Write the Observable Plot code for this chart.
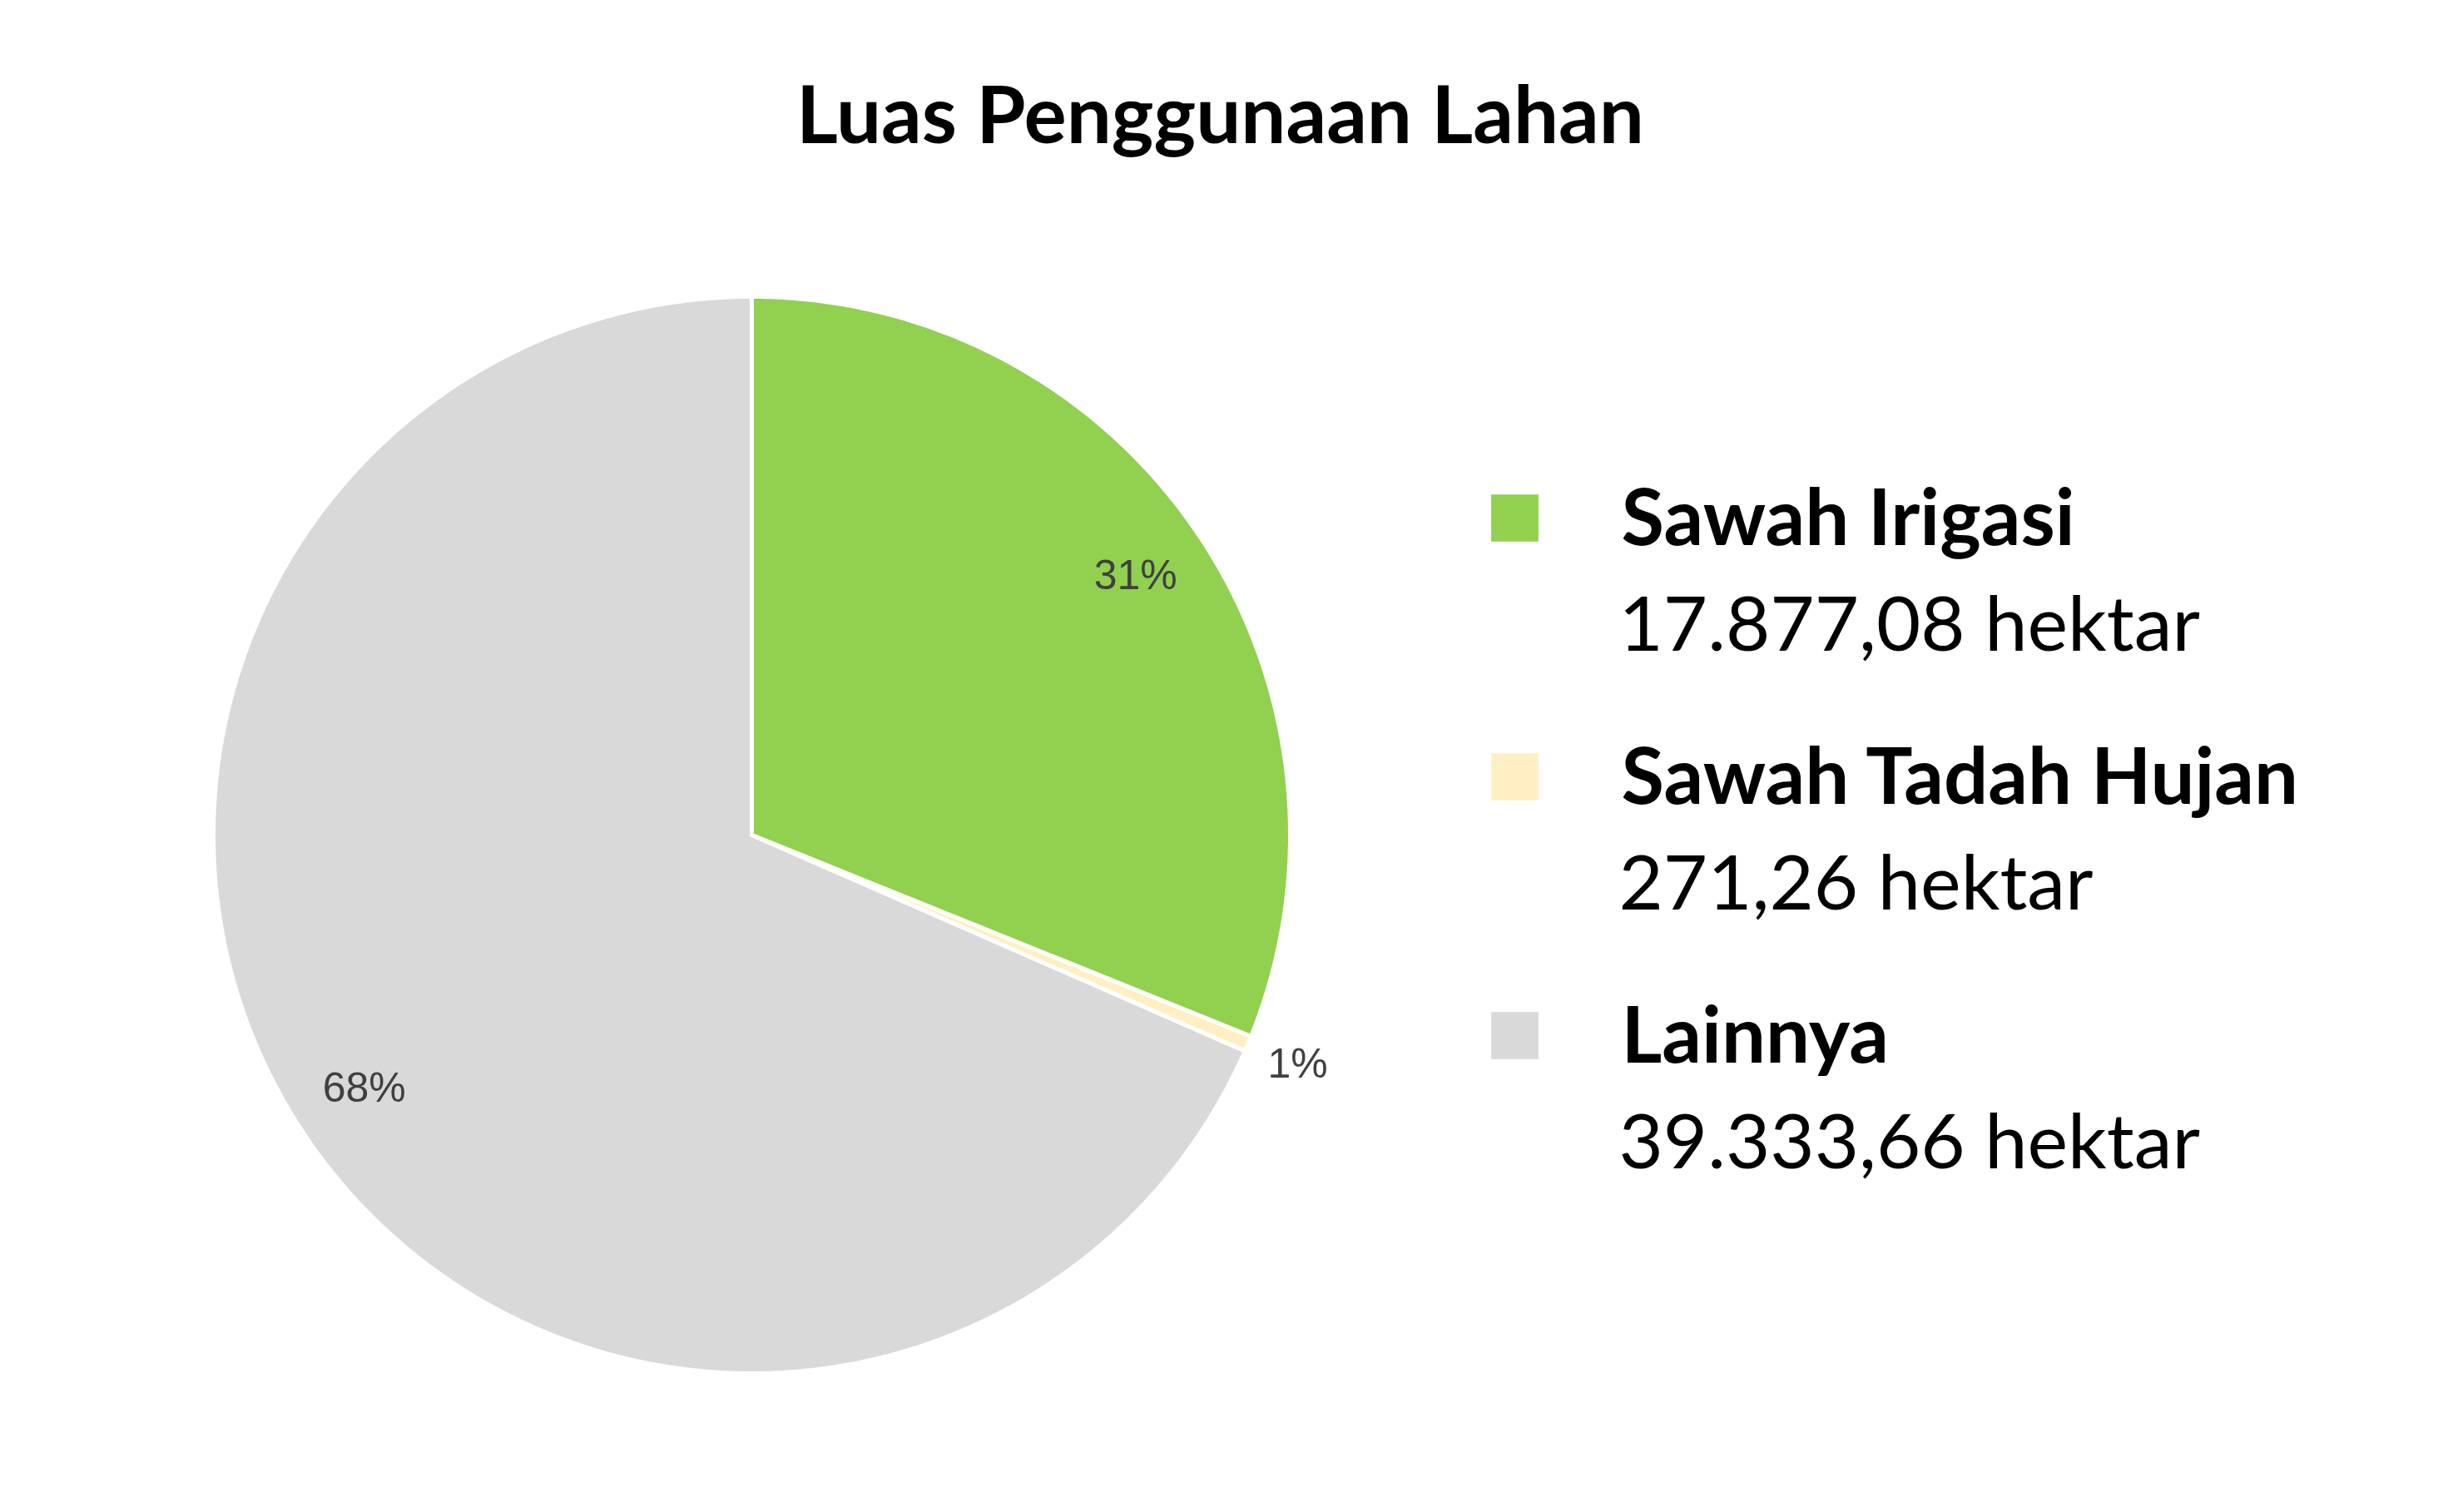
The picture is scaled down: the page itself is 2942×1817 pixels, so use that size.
<!DOCTYPE html>
<html>
<head>
<meta charset="utf-8">
<script src="https://cdn.jsdelivr.net/npm/d3@7"></script>
<script src="https://cdn.jsdelivr.net/npm/@observablehq/plot@0.6"></script>
<style>body{margin:0;background:#fff}</style>
</head>
<body>
<div id="chart"></div>
<script>
// data
const categories = ["Sawah Irigasi", "Sawah Tadah Hujan", "Lainnya"]
const values = [17877.08, 271.26, 39333.66]
const valueLabels = ["17.877,08 hektar", "271,26 hektar", "39.333,66 hektar"]
const colors = ["#92d050", "#ffefc2", "#d9d9d9"]

const W = 2942, H = 1817
const cx = 903, cy = 1003, R = 647
const total = d3.sum(values)
const arcs = d3.pie().sort(null)(values)

// poligon tiap irisan
let pts = []
arcs.forEach((a, i) => {
  pts.push({k: i, x: cx, y: cy})
  const n = Math.max(4, Math.ceil((a.endAngle - a.startAngle) * 120))
  for (let j = 0; j <= n; j++) {
    const t = a.startAngle + (a.endAngle - a.startAngle) * j / n
    pts.push({k: i, x: cx + R * Math.sin(t), y: cy - R * Math.cos(t)})
  }
  pts.push({k: i, x: cx, y: cy})
})

// label persen
const labels = arcs.map((a, i) => {
  const m = (a.startAngle + a.endAngle) / 2
  const p = values[i] / total
  const r = p < 0.05 ? 1.1 : 0.86
  return {x: cx + R * r * Math.sin(m), y: cy - R * r * Math.cos(m),
          t: Math.max(1, Math.round(p * 100)) + "%"}
})

const legend = categories.map((c, i) => ({name: c, val: valueLabels[i], i, y: 622 + i * 311}))

let chart = Plot.plot({
  width: W, height: H, margin: 0,
  x: {type: "identity", axis: null}, y: {type: "identity", axis: null},
  color: {type: "identity"},
  marks: [
    Plot.line(pts, {x: "x", y: "y", z: "k", fill: d => colors[d.k], stroke: "white", strokeWidth: 5, curve: "linear-closed"}),
    Plot.text(labels, {x: "x", y: "y", text: "t", fill: "#404040", fontSize: 50, fontFamily: "Liberation Sans"}),
    Plot.text(["Luas Penggunaan Lahan"], {x: W / 2 - 5, y: 141, text: d => d, fontSize: 96, fontWeight: "bold", fill: "black", fontFamily: "Lato"}),
    Plot.dot(legend, {x: 1820, y: "y", symbol: "square", r: 32, fill: d => colors[d.i]}),
    Plot.text(legend, {x: 1948, y: d => d.y + 2, text: "name", textAnchor: "start", fontSize: 94, fontWeight: "bold", fill: "black", fontFamily: "Lato"}),
    Plot.text(legend, {x: 1945, y: d => d.y + 130, text: "val", textAnchor: "start", fontSize: 92, fill: "black", fontFamily: "Lato"})
  ]
})

d3.select('#chart').append(() => chart)
</script>
</body>
</html>
